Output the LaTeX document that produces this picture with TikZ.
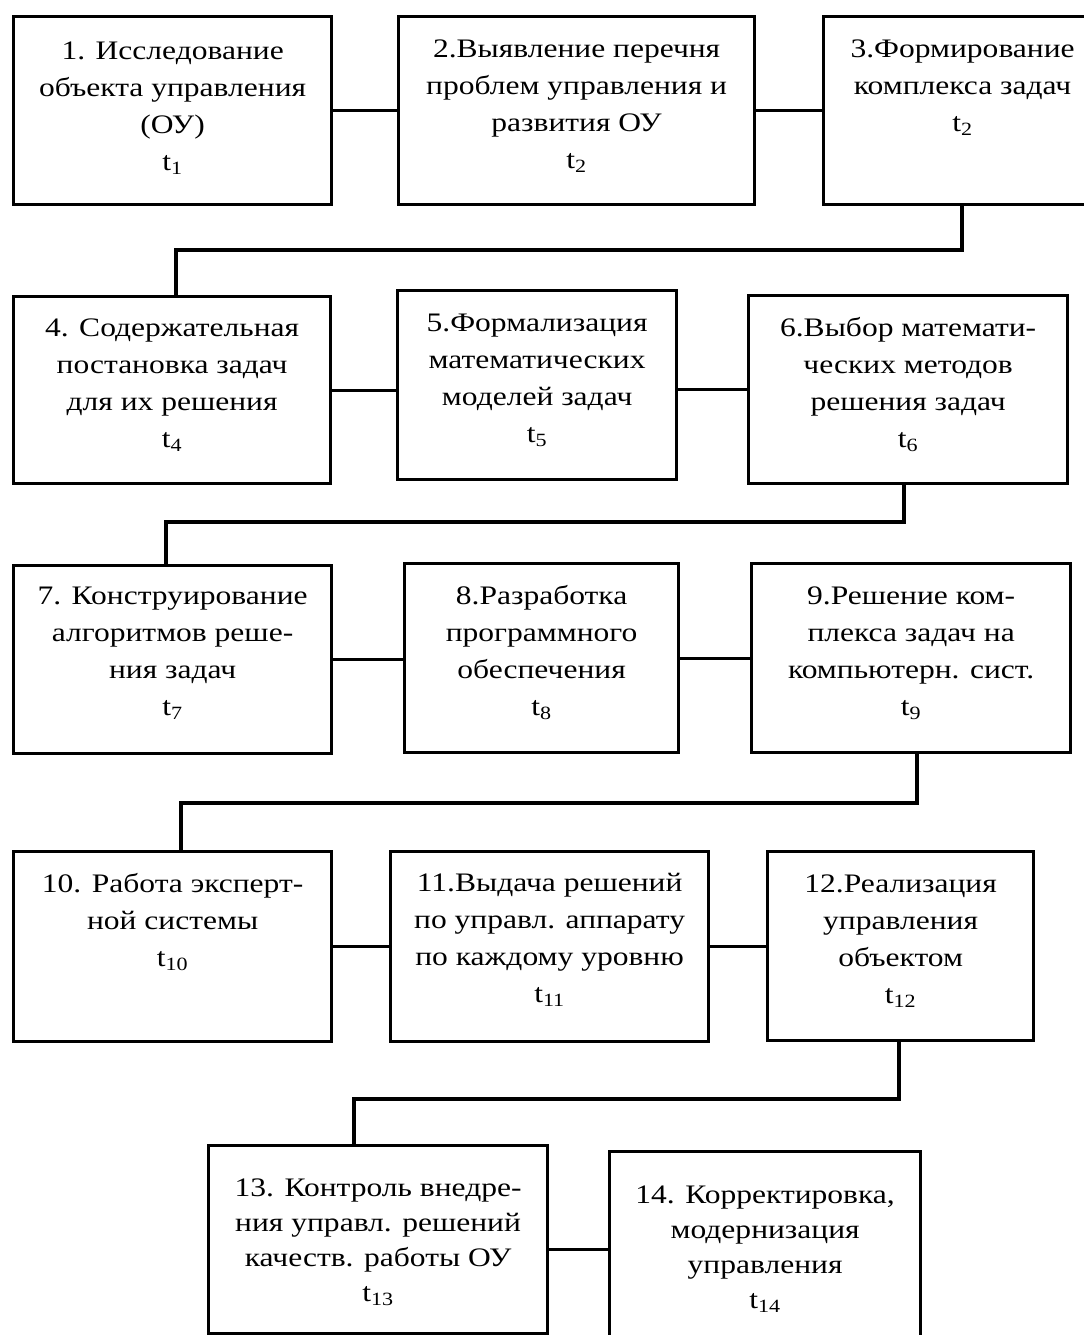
\documentclass[tikz,border=0pt]{standalone}
\usepackage{fontspec}
\setmainfont{Liberation Serif}[FakeStretch=1.18]
\usepackage{tikz}

\newlength\pxlen
\setlength\pxlen{0.025cm}
% width, height, top gap, lines
\newcommand{\stagetext}[4]{%
  \parbox[t][#2\pxlen][t]{#1\pxlen}{\vspace*{#3\pxlen}\centering
    \begin{tabular}[t]{@{}c@{}}#4\end{tabular}}}

\begin{document}
\begin{tikzpicture}[
    x=0.025cm, y=-0.025cm,
    stage/.style={draw, line width=2.3pt, inner sep=0pt, anchor=north west,
      font=\fontsize{19}{26.3}\selectfont},
    lowstage/.style={stage, font=\fontsize{19}{24.9}\selectfont},
    link/.style={line width=2.3pt},
  ]
  \useasboundingbox (0,0) rectangle (1084,1335);
  \clip (0,0) rectangle (1084,1335);

  % Row 1
  \node[stage] (s1) at (12,15) {\stagetext{318}{188}{17}{1. Исследование\\объекта управления\\(ОУ)\\t\textsubscript{1}}};
  \node[stage] (s2) at (397,15) {\stagetext{356}{188}{15}{2.Выявление перечня\\проблем управления и\\развития ОУ\\t\textsubscript{2}}};
  \node[stage] (s3) at (822,15) {\stagetext{278}{188}{15}{3.Формирование\\комплекса задач\\t\textsubscript{2}}};

  % Row 2
  \node[stage] (s4) at (12,295) {\stagetext{317}{187}{14}{4. Содержательная\\постановка задач\\для их решения\\t\textsubscript{4}}};
  \node[stage] (s5) at (396,289) {\stagetext{279}{189}{15}{5.Формализация\\математических\\моделей задач\\t\textsubscript{5}}};
  \node[stage] (s6) at (747,294) {\stagetext{319}{188}{15}{6.Выбор математи-\\ческих методов\\решения задач\\t\textsubscript{6}}};

  % Row 3
  \node[stage] (s7) at (12,564) {\stagetext{318}{188}{13}{7. Конструирование\\алгоритмов реше-\\ния задач\\t\textsubscript{7}}};
  \node[stage] (s8) at (403,562) {\stagetext{274}{189}{15}{8.Разработка\\программного\\обеспечения\\t\textsubscript{8}}};
  \node[stage] (s9) at (750,562) {\stagetext{319}{189}{15}{9.Решение ком-\\плекса задач на\\компьютерн. сист.\\t\textsubscript{9}}};

  % Row 4
  \node[stage] (s10) at (12,850) {\stagetext{318}{190}{15}{10. Работа эксперт-\\ной системы\\t\textsubscript{10}}};
  \node[stage] (s11) at (389,850) {\stagetext{318}{190}{14}{11.Выдача решений\\по управл. аппарату\\по каждому уровню\\t\textsubscript{11}}};
  \node[stage] (s12) at (766,850) {\stagetext{266}{189}{15}{12.Реализация\\управления\\объектом\\t\textsubscript{12}}};

  % Row 5
  \node[lowstage] (s13) at (207,1144) {\stagetext{339}{188}{26}{13. Контроль внедре-\\ния управл. решений\\качеств. работы ОУ\\t\textsubscript{13}}};
  \node[lowstage] (s14) at (608,1150) {\stagetext{311}{195}{27}{14. Корректировка,\\модернизация\\управления\\t\textsubscript{14}}};

  % Elbow corners
  \coordinate (e1a) at (962,250);  \coordinate (e1b) at (176,250);
  \coordinate (e2a) at (904,522);  \coordinate (e2b) at (166,522);
  \coordinate (e3a) at (917,803);  \coordinate (e3b) at (181,803);
  \coordinate (e4a) at (899,1099); \coordinate (e4b) at (354,1099);

  % Links within rows
  \draw[link] (s1.east) -- (s1.east -| s2.west);
  \draw[link] (s2.east) -- (s2.east -| s3.west);
  \draw[link] (s4.east) -- (s4.east -| s5.west);
  \draw[link] (s5.east |- s6.west) -- (s6.west);
  \draw[link] (s7.east) -- (s7.east -| s8.west);
  \draw[link] (s8.east |- s9.west) -- (s9.west);
  \draw[link] (s10.east) -- (s10.east -| s11.west);
  \draw[link] (s11.east) -- (s11.east -| s12.west);
  \draw[link] (s13.east |- s14.west) -- (s14.west);

  % Links between rows
  \draw[link] (s3.south -| e1a) -- (e1a) -- (e1b) -- (e1b |- s4.north);
  \draw[link] (s6.south -| e2a) -- (e2a) -- (e2b) -- (e2b |- s7.north);
  \draw[link] (s9.south -| e3a) -- (e3a) -- (e3b) -- (e3b |- s10.north);
  \draw[link] (s12.south -| e4a) -- (e4a) -- (e4b) -- (e4b |- s13.north);

\end{tikzpicture}
\end{document}
